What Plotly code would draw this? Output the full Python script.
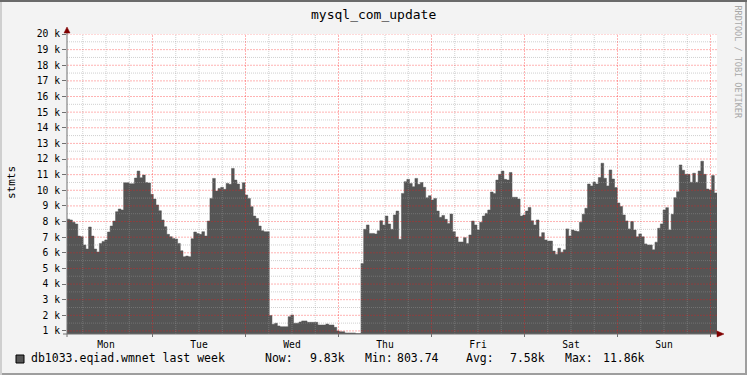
import plotly.graph_objects as go

# ---------------- data ----------------
title = "mysql_com_update"
y_unit = "stmts"
series_name = "db1033.eqiad.wmnet last week"
watermark = "RRDTOOL / TOBI OETIKER"
day_names = ["Mon", "Tue", "Wed", "Thu", "Fri", "Sat", "Sun"]
# graph window, in hours after Monday 00:00
window_start_h = 1.935
window_end_h = 169.675
y_min = 803.74
y_max = 20000
y_tick_k = list(range(1, 21))
stat_labels = ["Now:", "Min:", "Avg:", "Max:"]
stat_values = ["9.83k", "803.74", "7.58k", "11.86k"]

# consolidated samples (thousands of statements), evenly spaced over the window
values_k = [
    # Mon / early Tue
    8.15, 8.1, 7.95, 7.84, 7.07, 7.03, 6.5, 6.24, 7.65, 7.07, 6.24, 6.05, 6.6, 6.73, 6.82,
    7.33, 7.71, 8.03, 8.63, 8.8, 8.74, 10.48, 10.48, 10.42, 10.42, 10.78, 11.23, 10.8, 10.97,
    10.5, 10.46, 9.74, 9.44, 9.06, 8.69, 8.1, 7.67, 7.18, 7.03, 6.92, 6.88, 6.6, 6.13, 5.75,
    5.79, 5.75, 6.9, 7.33, 7.24, 7.18, 7.35, 7.07, 8.03, 9.48, 10.76, 9.95, 10.12, 10.19,
    10.06, 10.44,
    # Tue / Wed
    10.38, 11.4, 10.65, 10.4, 10.06, 10.48, 9.7, 9.48, 8.95, 8.35, 8.2, 7.71, 7.41, 7.35,
    7.35, 1.98, 1.42, 1.49, 1.32, 1.27, 1.27, 1.27, 1.91, 2.02, 1.49, 1.49, 1.57, 1.64, 1.64,
    1.55, 1.55, 1.55, 1.55, 1.38, 1.38, 1.38, 1.44, 1.38, 1.38, 1.23, 1.0, 0.95, 0.95, 0.87,
    0.87, 0.87, 0.87, 0.83, 0.83, 5.32, 7.5, 7.78, 7.24, 7.24, 7.2, 7.41, 8.05, 7.78, 8.35,
    7.84,
    # Thu / Fri
    7.5, 8.42, 8.67, 6.86, 9.8, 10.55, 10.7, 10.44, 10.23, 10.76, 10.38, 10.5, 10.19, 9.52,
    9.65, 9.38, 9.48, 8.67, 8.27, 8.39, 8.14, 7.88, 8.48, 7.35, 7.01, 6.69, 6.69, 6.97, 6.6,
    7.14, 8.03, 7.78, 7.46, 7.95, 8.35, 8.52, 8.74, 9.89, 9.8, 10.65, 11.02, 11.23, 10.7,
    10.65, 11.14, 9.55, 9.55, 9.44, 8.35, 8.42, 8.67, 8.9, 8.05, 7.78, 8.1, 7.03, 7.29, 6.82,
    6.75, 6.75, 6.11,
    # Sat / Sun
    5.91, 6.29, 6.04, 6.19, 7.53, 7.08, 7.46, 7.4, 7.36, 7.95, 8.46, 8.85, 10.4, 10.28, 10.53,
    10.4, 10.81, 11.73, 10.77, 10.28, 11.3, 10.72, 10.17, 9.19, 8.96, 8.42, 8.04, 7.53, 8.0,
    7.46, 7.02, 7.21, 7.02, 6.57, 6.5, 6.5, 6.19, 6.68, 7.57, 7.85, 8.74, 8.89, 7.46, 8.46,
    9.53, 9.91, 11.62, 11.28, 11.02, 11.02, 10.51, 11.09, 10.51, 11.23, 11.86, 11.02, 10.08,
    10.02, 10.94, 9.83,
]

# ---------------- style ----------------
FONT = "DejaVu Sans Mono"
AREA = "#555555"
BACK = "#f3f3f3"
MGRID = "rgba(255,20,20,0.32)"
GRID = "rgba(150,150,150,0.45)"
AXIS = "#707070"
ARROW = "#800000"

W, H = 747, 375
L, R, T, B = 67, 30, 34, 41
PW, PH = W - L - R, H - T - B


def px(x):
    return (x - L) / PW


def py(y):
    return (H - B - y) / PH


n = len(values_k)
step = (window_end_h - window_start_h) / n
xs = [window_start_h + i * step for i in range(n)] + [window_end_h]
ys = [v * 1000 for v in values_k] + [values_k[-1] * 1000]

fig = go.Figure()
fig.add_trace(go.Scatter(
    x=xs, y=ys, mode="lines", line=dict(shape="hv", width=0.5, color=AREA),
    fill="tozeroy", fillcolor=AREA, hoverinfo="skip", showlegend=False,
))

shapes = []
dash = "1px,1px"
# horizontal minor grid
for k in y_tick_k:
    vm = k * 1000 + 500
    if vm < y_max:
        shapes.append(dict(type="line", xref="paper", yref="y", x0=0, x1=1, y0=vm, y1=vm,
                           line=dict(color=GRID, width=1, dash=dash), layer="above"))
# vertical minor grid
h = 6
while h < window_end_h:
    if h > window_start_h and h % 24 != 0:
        shapes.append(dict(type="line", xref="x", yref="paper", x0=h, x1=h, y0=0, y1=1,
                           line=dict(color=GRID, width=1, dash=dash), layer="above"))
    h += 6
# major grid (drawn last, on top)
for k in y_tick_k:
    v = k * 1000
    shapes.append(dict(type="line", xref="paper", yref="y", x0=0, x1=1, y0=v, y1=v,
                       line=dict(color=MGRID, width=1, dash="2px,1px"), layer="above"))
h = 24
while h < window_end_h:
    shapes.append(dict(type="line", xref="x", yref="paper", x0=h, x1=h, y0=0, y1=1,
                       line=dict(color=MGRID, width=1, dash="2px,1px"), layer="above"))
    shapes.append(dict(type="line", xref="x", yref="paper", x0=h, x1=h, y0=0,
                       y1=-3 / PH, line=dict(color=AXIS, width=1), layer="above"))
    h += 24

# axes lines + arrows
shapes.append(dict(type="line", xref="paper", yref="paper", x0=px(63), x1=px(718),
                   y0=0, y1=0, line=dict(color=AXIS, width=1), layer="above"))
shapes.append(dict(type="line", xref="paper", yref="paper", x0=0, x1=0,
                   y0=py(337), y1=py(32), line=dict(color=AXIS, width=1), layer="above"))
shapes.append(dict(type="path", xref="paper", yref="paper",
                   path=f"M {px(64)} {py(33)} L {px(70)} {py(33)} L {px(67)} {py(27)} Z",
                   fillcolor=ARROW, line=dict(color=ARROW, width=0.5), layer="above"))
shapes.append(dict(type="path", xref="paper", yref="paper",
                   path=f"M {px(717)} {py(331)} L {px(717)} {py(337)} L {px(724)} {py(334)} Z",
                   fillcolor=ARROW, line=dict(color=ARROW, width=0.5), layer="above"))
# legend swatch
shapes.append(dict(type="rect", xref="paper", yref="paper", x0=px(16), x1=px(24),
                   y0=py(363), y1=py(355), fillcolor=AREA, line=dict(color="#000", width=1)))
# frame
shapes.append(dict(type="rect", xref="paper", yref="paper", x0=px(0), x1=px(W),
                   y0=py(H), y1=py(H - 2), fillcolor="#9e9e9e", line=dict(width=0)))
shapes.append(dict(type="rect", xref="paper", yref="paper", x0=px(W - 2), x1=px(W),
                   y0=py(H), y1=py(0), fillcolor="#9e9e9e", line=dict(width=0)))
shapes.append(dict(type="rect", xref="paper", yref="paper", x0=px(0), x1=px(2),
                   y0=py(H), y1=py(0), fillcolor="#cfcfcf", line=dict(width=0)))
shapes.append(dict(type="rect", xref="paper", yref="paper", x0=px(0), x1=px(W),
                   y0=py(2), y1=py(0), fillcolor="#6a6a6a", line=dict(width=0)))

ann = []
ann.append(dict(text=title, xref="paper", yref="paper", x=px(373.5), y=py(14),
                xanchor="center", yanchor="middle", showarrow=False,
                font=dict(family=FONT, size=13, color="#000")))
ann.append(dict(text=y_unit, xref="paper", yref="paper", x=px(11), y=py(183),
                xanchor="center", yanchor="middle", textangle=-90, showarrow=False,
                font=dict(family=FONT, size=11, color="#000")))
ann.append(dict(text=watermark, xref="paper", yref="paper", x=px(737.5), y=py(62),
                xanchor="center", yanchor="middle", textangle=90, showarrow=False,
                font=dict(family=FONT, size=8.5, color="#a8a8a8")))
ann.append(dict(text=series_name, xref="paper", yref="paper", x=px(29), y=py(358.5),
                xanchor="left", yanchor="middle", showarrow=False,
                font=dict(family=FONT, size=11.5, color="#000")))
label_x = [263, 363, 464, 563]
value_right = [347, 441, 547, 647]
for lab, val, lx, vr in zip(stat_labels, stat_values, label_x, value_right):
    ann.append(dict(text=lab, xref="paper", yref="paper", x=px(lx), y=py(358.5),
                    xanchor="left", yanchor="middle", showarrow=False,
                    font=dict(family=FONT, size=11.5, color="#000")))
    ann.append(dict(text=val, xref="paper", yref="paper", x=px(vr), y=py(358.5),
                    xanchor="right", yanchor="middle", showarrow=False,
                    font=dict(family=FONT, size=11.5, color="#000")))

fig.update_layout(
    width=W, height=H, margin=dict(l=L, r=R, t=T, b=B, pad=0),
    paper_bgcolor=BACK, plot_bgcolor="#ffffff",
    font=dict(family=FONT, size=10, color="#000"),
    shapes=shapes, annotations=ann, showlegend=False,
    xaxis=dict(range=[window_start_h, window_end_h], showgrid=False, zeroline=False,
               showline=False, tickmode="array",
               tickvals=[12 + 24 * i for i in range(len(day_names))], ticktext=day_names,
               ticks="outside", ticklen=1, tickcolor="rgba(0,0,0,0)",
               tickfont=dict(family=FONT, size=9.7, color="#000"), fixedrange=True),
    yaxis=dict(range=[y_min, y_max], showgrid=False, zeroline=False, showline=False,
               tickmode="array", tickvals=[k * 1000 for k in y_tick_k],
               ticktext=[f"{k} k" for k in y_tick_k], ticks="outside", ticklen=4,
               tickcolor=AXIS, tickfont=dict(family=FONT, size=9.7, color="#000"),
               fixedrange=True),
)

fig.write_html("out.html")
